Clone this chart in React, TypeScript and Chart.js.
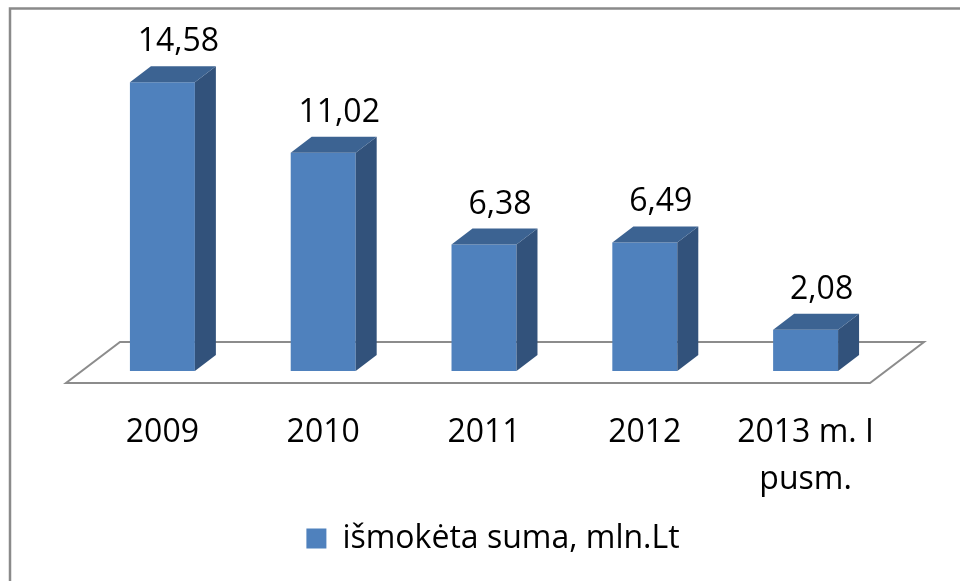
import React, { useEffect, useRef } from "react";
import { Chart, registerables } from "chart.js";

Chart.register(...registerables);

const categories: (string | string[])[] = ["2009", "2010", "2011", "2012", ["2013 m. I", "pusm."]];
const values: number[] = [14.58, 11.02, 6.38, 6.49, 2.08];
const valueLabels: string[] = ["14,58", "11,02", "6,38", "6,49", "2,08"];
const seriesName = "išmokėta suma, mln.Lt";

const FONT = "'Open Sans', sans-serif";
const FONT_SIZE = 32;
const FRONT = "#4F81BD";
const SIDE = "#32527B";
const TOP = "#3C6392";
const DEPTH_X = 21;
const DEPTH_Y = 16;

const deco3d = {
  id: "deco3d",
  afterLayout(chart: any) {
    if (chart.legend) {
      chart.legend.left += 9;
      chart.legend.right += 9;
    }
  },
  beforeDraw(chart: any) {
    const { ctx } = chart;
    ctx.save();
    ctx.fillStyle = "#ffffff";
    ctx.fillRect(0, 0, chart.width, chart.height);
    ctx.strokeStyle = "#8a8a8a";
    ctx.lineWidth = 2.5;
    ctx.beginPath();
    ctx.moveTo(10, chart.height);
    ctx.lineTo(10, 8.5);
    ctx.lineTo(chart.width, 8.5);
    ctx.stroke();
    ctx.restore();
  },
  beforeDatasetsDraw(chart: any) {
    const { ctx, chartArea } = chart;
    const { left, right, bottom } = chartArea;
    ctx.save();
    ctx.strokeStyle = "#8c8c8c";
    ctx.lineWidth = 2;
    ctx.beginPath();
    ctx.moveTo(left - 16, bottom + 12);
    ctx.lineTo(right - 16, bottom + 12);
    ctx.lineTo(right + 38, bottom - 29);
    ctx.lineTo(left + 38, bottom - 29);
    ctx.closePath();
    ctx.stroke();
    ctx.restore();
  },
  afterDatasetsDraw(chart: any) {
    const { ctx } = chart;
    const meta = chart.getDatasetMeta(0);
    ctx.save();
    meta.data.forEach((bar: any, i: number) => {
      const { x, y, base, width } = bar.getProps(["x", "y", "base", "width"], true);
      const l = x - width / 2;
      const r = x + width / 2;
      ctx.fillStyle = SIDE;
      ctx.beginPath();
      ctx.moveTo(r, y);
      ctx.lineTo(r + DEPTH_X, y - DEPTH_Y);
      ctx.lineTo(r + DEPTH_X, base - DEPTH_Y);
      ctx.lineTo(r, base);
      ctx.closePath();
      ctx.fill();
      ctx.fillStyle = TOP;
      ctx.beginPath();
      ctx.moveTo(l, y);
      ctx.lineTo(l + DEPTH_X, y - DEPTH_Y);
      ctx.lineTo(r + DEPTH_X, y - DEPTH_Y);
      ctx.lineTo(r, y);
      ctx.closePath();
      ctx.fill();
      ctx.fillStyle = "#000000";
      ctx.font = `${FONT_SIZE}px ${FONT}`;
      ctx.textAlign = "center";
      ctx.textBaseline = "alphabetic";
      ctx.fillText(valueLabels[i], x + 16, y - 31);
    });
    ctx.restore();
  },
};

export default function App() {
  const ref = useRef<HTMLCanvasElement | null>(null);
  useEffect(() => {
    if (!ref.current) return;
    const chart = new Chart(ref.current, {
      type: "bar",
      data: {
        labels: categories as any,
        datasets: [
          {
            label: seriesName,
            data: values,
            backgroundColor: FRONT,
            borderWidth: 0,
            barPercentage: 0.404,
            categoryPercentage: 1,
          },
        ],
      },
      options: {
        responsive: false,
        animation: false,
        events: [],
        layout: { padding: { left: 82, right: 74, top: 54, bottom: 16.5 } },
        scales: {
          x: {
            grid: { display: false, drawTicks: false },
            border: { display: false },
            ticks: {
              color: "#000000",
              font: { family: FONT, size: FONT_SIZE, lineHeight: 1.48 },
              padding: 38,
              maxRotation: 0,
              autoSkip: false,
            },
            afterFit: (scale: any) => {
              scale.height = 141.5;
            },
          },
          y: { display: false, min: 0, max: 16 },
        },
        plugins: {
          legend: {
            position: "bottom",
            labels: {
              color: "#000000",
              font: { family: FONT, size: FONT_SIZE },
              boxWidth: 20,
              boxHeight: 20,
              padding: 10,
            },
          },
          tooltip: { enabled: false },
        },
      },
      plugins: [deco3d],
    });
    return () => chart.destroy();
  }, []);
  return (
    <div style={{ position: "fixed", left: 0, top: 0, width: 960, height: 581 }}>
      <canvas ref={ref} width={960} height={581} />
    </div>
  );
}
